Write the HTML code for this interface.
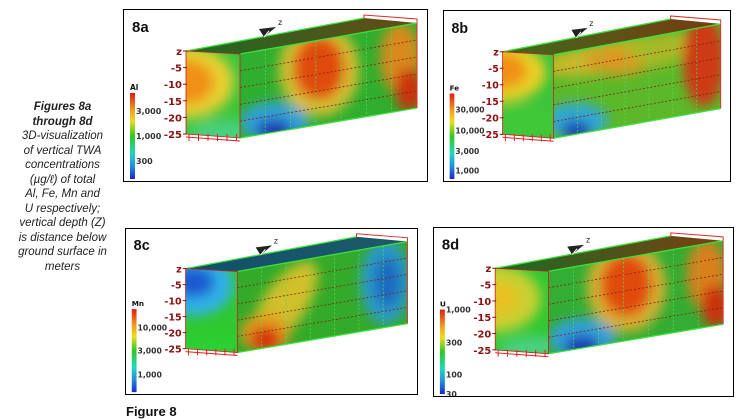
<!DOCTYPE html>
<html><head><meta charset="utf-8">
<style>
html,body{margin:0;padding:0;background:#fff;}
body{width:742px;height:417px;position:relative;overflow:hidden;font-family:"Liberation Sans",sans-serif;}
.cap{position:absolute;left:0;top:100px;width:125px;text-align:center;font-style:italic;font-size:11.5px;line-height:14.5px;color:#222;}
.cap b{font-weight:bold;}
.panel{position:absolute;border:1.5px solid #000;box-sizing:border-box;background:#fff;overflow:hidden;}
.panel svg{position:absolute;left:0;top:0;}
.fig{position:absolute;left:126px;top:404px;font-size:13px;font-weight:bold;color:#111;}
</style></head>
<body>
<div class="cap"><b>Figures 8a<br>through 8d</b><br>3D-visualization<br>of vertical TWA<br>concentrations<br>(µg/ℓ) of total<br>Al, Fe, Mn and<br>U respectively;<br>vertical depth (Z)<br>is distance below<br>ground surface in<br>meters</div>
<div class="fig">Figure 8</div>
<div id="root"></div>
<script>
const panelIds=['8a','8b','8c','8d'];
const elements=['Al','Fe','Mn','U'];
const colorbarTicks=[['3,000','1,000','300'],['30,000','10,000','3,000','1,000'],['10,000','3,000','1,000'],['1,000','300','100','30']];
const tickFrac=[[0.21,0.5,0.79],[0.19,0.43,0.67,0.9],[0.22,0.5,0.79],[0.0,0.39,0.77,1.0]];
const depthTicks=['z','-5','-10','-15','-20','-25'];
const panelBoxes=[[123,9,305,173],[443,10,288,172],[125,228,293,167],[433,227,301,170]];
const frontBase=['#3cc43a','#3cc43a','#30c830','#33c733'];
const sideBase=['#2fae2f','#5cb82a','#34aa2a','#33ad33'];
const topCol=[['#1d6a25','#6a4a14'],['#3f6a1c','#7a3a10'],['#11506a','#1d5a6a'],['#1d6a25','#7a4010']];
// blobs: [face, cx, cy, rx, ry, color, rotation]
const blobs=[
 [['f',62,72,48,36,'#e8d030',0],['f',62,72,28,22,'#f09018',0],['f',100,122,34,12,'#48d080',0],
  ['s',195,60,40,46,'#d8c030',0],['s',195,58,26,32,'#e04c10',0],['s',150,112,34,20,'#30a0d8',0],['s',150,120,18,10,'#1a34b0',0],
  ['s',276,48,20,36,'#d88a1a',0],['s',285,80,14,22,'#cc3010',0]],
 [['f',58,62,50,30,'#e8d028',0],['f',58,60,30,18,'#f09018',0],['f',90,112,40,16,'#40c838',0],
  ['s',190,45,90,16,'#c8b82a',-8],['s',185,50,35,14,'#d89a20',0],['s',225,40,30,14,'#a8b828',0],['s',140,110,34,18,'#30a8d0',0],['s',140,120,16,9,'#1a40b8',0],
  ['s',275,50,22,46,'#cc3a12',0]],
 [['f',70,58,42,32,'#30b0e8',0],['f',70,55,22,16,'#1a5ad0',0],['f',90,122,45,12,'#2ad030',0],
  ['s',165,78,22,52,'#d0c02a',35],['s',145,108,26,20,'#e09a1c',0],['s',145,114,16,12,'#d82a10',0],
  ['s',270,55,26,44,'#2a9ac8',0],['s',272,55,14,26,'#1a6ac0',0]],
 [['f',62,72,46,34,'#c8d030',0],['f',62,72,24,18,'#e8c020',0],['f',100,122,34,12,'#48d080',0],
  ['s',195,60,40,46,'#d8b030',0],['s',195,58,26,32,'#e04c10',0],['s',150,112,34,20,'#30a0d8',0],['s',150,120,18,10,'#1a34b0',0],
  ['s',276,48,20,36,'#d8801a',0],['s',285,80,14,22,'#cc3010',0]]
];
const root=document.getElementById('root');
const NS='http://www.w3.org/2000/svg';
function P(a){return a.map(p=>p.join(',')).join(' ');}
function E_(b){return `<ellipse cx="${b[1]}" cy="${b[2]}" rx="${b[3]}" ry="${b[4]}" fill="${b[5]}" transform="rotate(${b[6]} ${b[1]} ${b[2]})"/>`;}
panelIds.forEach((id,i)=>{
 const [x,y,w,h]=panelBoxes[i];
 const div=document.createElement('div');
 div.className='panel';
 div.style.cssText=`left:${x}px;top:${y}px;width:${w}px;height:${h}px`;
 
 
 const A=[62,41],B=[116,44],C=[116,128],D=[62,124],E=[293,13],F=[293,98],G=[240,8];
 const front=[A,B,C,D], side=[B,E,F,C], top=[A,G,E,B];
 let s=`<svg width="${w}" height="${h}" viewBox="0 0 305 173" preserveAspectRatio="none" xmlns="${NS}">
 <defs><filter id="bl${i}" x="-50%" y="-50%" width="200%" height="200%"><feGaussianBlur stdDeviation="6"/></filter>
 <clipPath id="cf${i}"><polygon points="${P(front)}"/></clipPath>
 <clipPath id="cs${i}"><polygon points="${P(side)}"/></clipPath>
 <linearGradient id="tg${i}" x1="0" x2="1"><stop offset="0" stop-color="${topCol[i][0]}"/><stop offset="1" stop-color="${topCol[i][1]}"/></linearGradient>
 <linearGradient id="cb${i}" x1="0" y1="0" x2="0" y2="1">
 <stop offset="0" stop-color="#e01a10"/><stop offset="0.2" stop-color="#f0a020"/><stop offset="0.33" stop-color="#e8e020"/><stop offset="0.5" stop-color="#30c820"/><stop offset="0.7" stop-color="#20d8c0"/><stop offset="0.85" stop-color="#2090e0"/><stop offset="1" stop-color="#1a28c8"/></linearGradient>
 </defs>
 <text x="8" y="22" font-size="15" font-weight="bold" font-family="Liberation Sans" fill="#111">${id}</text>
 <polygon points="${P(top)}" fill="url(#tg${i})"/>
 <g clip-path="url(#cf${i})"><polygon points="${P(front)}" fill="${frontBase[i]}"/><g filter="url(#bl${i})">`;
 blobs[i].filter(b=>b[0]=='f').forEach(b=>{s+=E_(b);});
 s+=`</g></g><g clip-path="url(#cs${i})"><polygon points="${P(side)}" fill="${sideBase[i]}"/><g filter="url(#bl${i})">`;
 blobs[i].filter(b=>b[0]=='s').forEach(b=>{s+=E_(b);});
 s+=`</g>`;
 for(let k=1;k<=4;k++){const t=k/5;const y1=B[1]+(C[1]-B[1])*t,y2=E[1]+(F[1]-E[1])*t;s+=`<line x1="${B[0]}" y1="${y1}" x2="${E[0]}" y2="${y2}" stroke="#8a1a10" stroke-width="0.8" stroke-dasharray="2,2"/>`;}
 for(let k=1;k<=6;k++){const t=k/7;const xx=B[0]+(E[0]-B[0])*t;const y1=B[1]+(E[1]-B[1])*t,y2=C[1]+(F[1]-C[1])*t;s+=`<line x1="${xx}" y1="${y1}" x2="${xx}" y2="${y2}" stroke="#5ae05a" stroke-width="0.7" stroke-dasharray="2,2"/>`;}
 s+=`</g>
 <polyline points="${P([A,G])}" fill="none" stroke="#3ee03e" stroke-width="1.3"/>
 <polyline points="${P([G,[G[0],5],[E[0],9],E])}" fill="none" stroke="#e02a2a" stroke-width="1"/>
 <line x1="${B[0]}" y1="${B[1]}" x2="${E[0]}" y2="${E[1]}" stroke="#3ee03e" stroke-width="1.3"/>
 <line x1="${C[0]}" y1="${C[1]}" x2="${F[0]}" y2="${F[1]}" stroke="#3ee03e" stroke-width="1.3"/>
 <polygon points="${P(front)}" fill="none" stroke="#d01a1a" stroke-width="0.8"/>
 <line x1="${E[0]}" y1="${E[1]}" x2="${F[0]}" y2="${F[1]}" stroke="#e03030" stroke-width="1"/>
 <polyline points="${P([[D[0],D[1]+3],[C[0],C[1]+3]])}" fill="none" stroke="#e02020" stroke-width="1"/>`;
 for(let k=0;k<6;k++){const xx=D[0]+3+k*9.5;s+=`<line x1="${xx}" y1="${D[1]}" x2="${xx}" y2="${D[1]+7}" stroke="#e02020" stroke-width="1"/>`;}
 depthTicks.forEach((t,k)=>{const yy=A[1]+(D[1]-A[1])*k/5;s+=`<text x="58" y="${yy+4}" text-anchor="end" font-size="10" font-weight="bold" font-family="DejaVu Sans" fill="#8a1010">${t}</text><line x1="59" y1="${yy}" x2="63" y2="${yy}" stroke="#8a1010"/>`;});
 s+=`<polygon points="135,19 152,17 140,27" fill="#222"/><polyline points="140,27 145,21" stroke="#fff" stroke-width="1"/><text x="154" y="15" font-size="8" fill="#222" font-family="DejaVu Sans">z</text>
 <text x="6" y="80" font-size="7.5" font-weight="bold" font-family="DejaVu Sans" fill="#111">${elements[i]}</text>
 <rect x="6" y="83" width="5" height="86" fill="url(#cb${i})"/>`;
 colorbarTicks[i].forEach((t,k)=>{const yy=83+86*tickFrac[i][k];s+=`<text x="12" y="${yy+3}" font-size="8" font-weight="bold" font-family="DejaVu Sans" fill="#333">${t}</text>`;});
 s+=`</svg>`;
 div.innerHTML=s;
 root.appendChild(div);
});
</script>
</body></html>
